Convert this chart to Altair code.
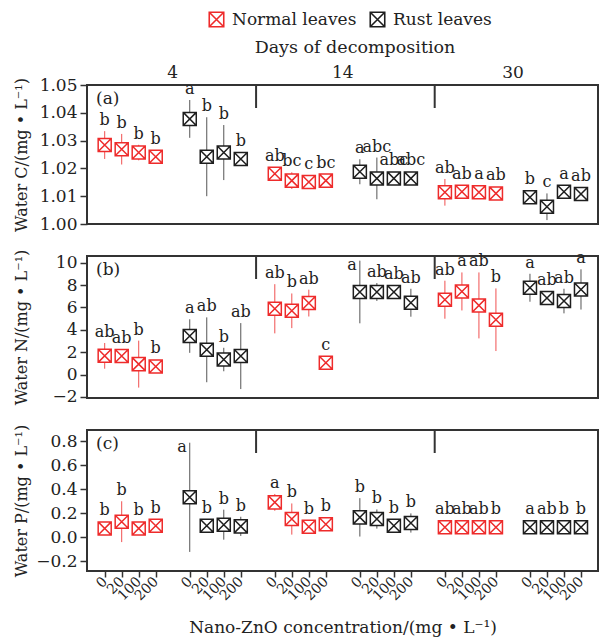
import altair as alt
import pandas as pd

conc_labels = ["0", "20", "100", "200"]
days = ["4", "14", "30"]
leaf_types = ["Normal leaves", "Rust leaves"]

# order: 4d normal, 4d rust, 14d normal, 14d rust, 30d normal, 30d rust (each 0,20,100,200)
C_mean = [1.0284, 1.0269, 1.0257, 1.0242, 1.0378, 1.0242, 1.0257, 1.0234,
          1.0181, 1.0156, 1.0151, 1.0156, 1.0188, 1.0164, 1.0164, 1.0164,
          1.0114, 1.0116, 1.0114, 1.0110, 1.0096, 1.0062, 1.0116, 1.0108]
C_sd = [0.0050, 0.0055, 0.0028, 0.0010, 0.0068, 0.0142, 0.0099, 0.0010,
        0.0008, 0.0030, 0.0008, 0.0012, 0.0045, 0.0075, 0.0008, 0.0008,
        0.0048, 0.0008, 0.0008, 0.0008, 0.0010, 0.0048, 0.0008, 0.0008]
C_letters = ["b", "b", "b", "b", "a", "b", "b", "b", "ab", "bc", "c", "bc",
             "a", "abc", "abc", "abc", "ab", "ab", "a", "ab", "b", "c", "a", "ab"]

N_mean = [1.67, 1.65, 0.93, 0.72, 3.44, 2.21, 1.34, 1.65,
          5.88, 5.70, 6.39, 1.05, 7.38, 7.38, 7.38, 6.42,
          6.69, 7.43, 6.18, 4.90, 7.76, 6.84, 6.57, 7.61]
N_sd = [1.15, 0.3, 2.1, 0.2, 1.5, 2.9, 1.05, 2.95,
        2.2, 1.55, 1.2, 0.2, 2.8, 0.8, 0.2, 1.25,
        1.7, 1.7, 2.95, 2.8, 1.25, 0.5, 1.1, 1.8]
N_letters = ["ab", "ab", "b", "b", "a", "ab", "b", "ab", "ab", "b", "ab", "c",
             "a", "ab", "ab", "ab", "ab", "a", "ab", "b", "a", "ab", "ab", "a"]

P_mean = [0.072, 0.128, 0.072, 0.094, 0.331, 0.094, 0.103, 0.089,
          0.289, 0.150, 0.086, 0.106, 0.164, 0.150, 0.094, 0.117,
          0.081, 0.081, 0.081, 0.081, 0.081, 0.081, 0.081, 0.081]
P_sd = [0.02, 0.17, 0.02, 0.02, 0.455, 0.02, 0.125, 0.08,
        0.07, 0.13, 0.02, 0.02, 0.16, 0.08, 0.02, 0.08,
        0.01, 0.01, 0.01, 0.01, 0.01, 0.01, 0.01, 0.01]
P_letters = ["b", "b", "b", "b", "a", "b", "b", "b", "a", "b", "b", "b",
             "b", "b", "b", "b", "ab", "ab", "ab", "b", "a", "ab", "b", "b"]

divider_pos = [8.9, 19.4]

FONT = "DejaVu Serif"
RED = "#ee2b2b"
BLACK = "#1e1e1e"
TXT = "#222222"
SHAPE = "M-1,-1H1V1H-1Z M-1,-1L1,1 M-1,1L1,-1"
W = 511
XDOM = [-1.04, 29.0]

panels = [
    dict(tag="(a)", title="Water C/(mg • L⁻¹)", mean=C_mean, sd=C_sd, letters=C_letters,
         domain=[1.0, 1.05], ticks=[1.00, 1.01, 1.02, 1.03, 1.04, 1.05], fmt=".2f", height=139),
    dict(tag="(b)", title="Water N/(mg • L⁻¹)", mean=N_mean, sd=N_sd, letters=N_letters,
         domain=[-2.1, 10.6], ticks=[-2, 0, 2, 4, 6, 8, 10], fmt="d", height=142),
    dict(tag="(c)", title="Water P/(mg • L⁻¹)", mean=P_mean, sd=P_sd, letters=P_letters,
         domain=[-0.283, 0.892], ticks=[-0.2, 0.0, 0.2, 0.4, 0.6, 0.8], fmt=".1f", height=141),
]

xpos = [(i // 4) * 5 + (i % 4) for i in range(24)]

charts = []
for k, p in enumerate(panels):
    d0, d1 = p["domain"]
    upx = (d1 - d0) / p["height"]  # data units per pixel
    rows = []
    for i in range(24):
        g, j = i // 4, i % 4
        m, s = p["mean"][i], p["sd"][i]
        lab = max(m + s, m + 7 * upx)
        side = (d1 - lab) < 13 * upx  # no room above: letter beside the bar top
        rows.append(dict(pos=xpos[i], conc=conc_labels[j], day=days[g // 2],
                         leaf=leaf_types[g % 2], mean=m, lo=m - s, hi=m + s,
                         lab=lab, side=side, letter=p["letters"][i]))
    df = pd.DataFrame(rows)

    last = k == len(panels) - 1
    if last:
        xaxis = alt.Axis(values=xpos, labelExpr="['0','20','100','200',''][datum.value % 5]",
                         labelAngle=-45, labelAlign="right", labelBaseline="middle",
                         labelFontSize=14, labelPadding=2, tickSize=6, labelOverlap=False,
                         labelFlush=False,
                         title="Nano-ZnO concentration/(mg • L⁻¹)", titleFontSize=17,
                         titlePadding=17)
    else:
        xaxis = None
    xscale = alt.Scale(domain=XDOM, nice=False, zero=False)
    y_axis = alt.Axis(values=p["ticks"], format=p["fmt"], title=p["title"],
                      titleX=-66, titleY=p["height"] / 2, titleBaseline="middle",
                      titleAngle=-90, titleAlign="center", labelOverlap=False,
                      labelFlush=False)
    yscale = alt.Scale(domain=p["domain"], nice=False, zero=False)

    def X(f):
        return alt.X(f, scale=xscale, axis=xaxis)

    def Y(f):
        return alt.Y(f, scale=yscale, axis=y_axis)

    base = alt.Chart(df)
    err = base.mark_rule(strokeWidth=1, clip=True).encode(
        x=X("pos:Q"), y=Y("lo:Q"), y2="hi:Q",
        color=alt.Color("leaf:N", scale=alt.Scale(domain=leaf_types, range=["#f05050", "#555555"]),
                        legend=None))
    if k == 0:
        leg = alt.Legend(orient="none", legendX=121, legendY=-74, direction="horizontal",
                         title=None, symbolType=SHAPE, symbolSize=210, symbolStrokeWidth=1.6,
                         symbolFillColor="white", labelFont=FONT, labelFontSize=17,
                         labelColor=TXT, columnPadding=10, labelOffset=7, columns=2)
    else:
        leg = None
    pts = base.mark_point(shape=SHAPE, size=170, filled=False, fill="white", fillOpacity=1,
                          strokeWidth=1.5, opacity=1).encode(
        x=X("pos:Q"), y=Y("mean:Q"),
        stroke=alt.Stroke("leaf:N", scale=alt.Scale(domain=leaf_types, range=[RED, BLACK]),
                          legend=leg))
    txt = base.transform_filter("!datum.side").mark_text(
        baseline="bottom", dy=-3, fontSize=16, font=FONT, color=TXT).encode(
        x=X("pos:Q"), y=Y("lab:Q"), text="letter:N")
    txt_side = base.transform_filter("datum.side").mark_text(
        align="right", baseline="top", dx=-3, dy=-4, fontSize=16, font=FONT, color=TXT).encode(
        x=X("pos:Q"), y=Y("hi:Q"), text="letter:N")
    tag = alt.Chart(alt.Data(values=[{"t": p["tag"]}])).mark_text(
        align="left", baseline="middle", fontSize=17, font=FONT, color=TXT).encode(
        x=alt.value(9), y=alt.value(14), text="t:N")
    div = alt.Chart(pd.DataFrame({"d": divider_pos})).mark_rule(
        strokeWidth=2, color="#333").encode(x=X("d:Q"), y=alt.value(0), y2=alt.value(23))

    layers = [err, pts, txt, txt_side, tag, div]
    if k == 0:
        dlab = alt.Chart(pd.DataFrame({"day": days, "c": [g * 10 + 4 for g in range(3)]})).mark_text(
            baseline="middle", fontSize=17, font=FONT, color=TXT).encode(
            x=X("c:Q"), y=alt.value(-12), text="day:N")
        dtitle = alt.Chart(alt.Data(values=[{"t": "Days of decomposition"}])).mark_text(
            baseline="middle", fontSize=17.5, font=FONT, color=TXT).encode(
            x=alt.value(268), y=alt.value(-37), text="t:N")
        layers += [dlab, dtitle]
    ch = alt.layer(*layers).properties(width=W, height=p["height"])
    charts.append(ch)

chart = alt.vconcat(*charts, spacing=32, bounds="flush").resolve_scale(y="independent").resolve_legend(
    stroke="independent").properties(
    padding={"left": 12, "top": 10, "right": 1, "bottom": 2}
).configure_view(stroke="#333", strokeWidth=2).configure_axis(
    domain=False, grid=False, tickColor="#333", tickWidth=1.5, tickSize=7,
    labelFont=FONT, titleFont=FONT, labelFontSize=17, titleFontSize=16,
    titleFontWeight="normal", labelColor=TXT, titleColor=TXT, labelPadding=3)

chart.save("out.html", embed_options={"renderer": "svg", "actions": False})
